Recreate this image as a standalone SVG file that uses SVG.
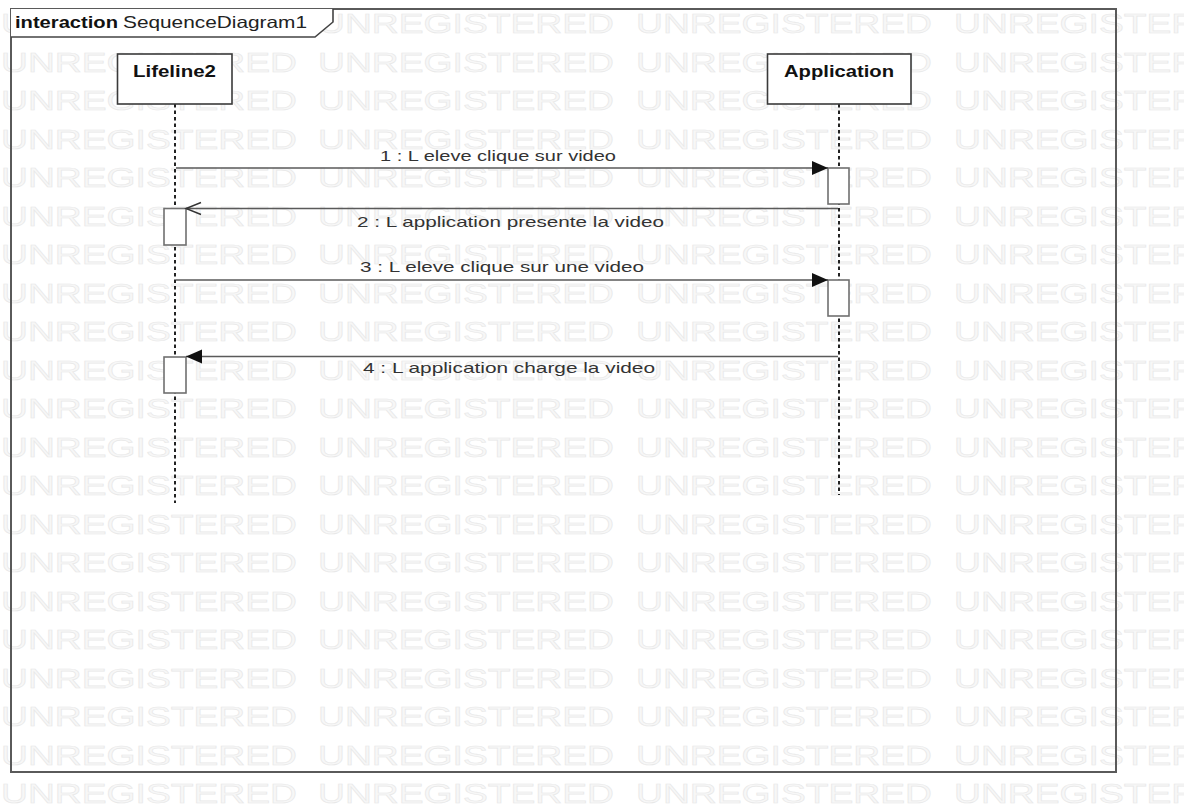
<svg xmlns="http://www.w3.org/2000/svg" width="1184" height="804" viewBox="0 0 1184 804">
  <defs>
    <style>
      .wm { font-family: "Liberation Sans", Arial, sans-serif; font-size: 28px; fill: #f7f7f7; stroke: #e8e8e8; stroke-width: 0.6; }
      .head { font-family: "Liberation Sans", Arial, sans-serif; font-size: 16.5px; font-weight: bold; fill: #111; }
      .title { font-family: "Liberation Sans", Arial, sans-serif; font-size: 16.5px; fill: #222; }
      .msg { font-family: "Liberation Sans", Arial, sans-serif; font-size: 15px; fill: #333; }
      .box { fill: #fff; stroke: #3a3a3a; stroke-width: 1.6; }
      .act { fill: #fff; stroke: #707070; stroke-width: 1.6; }
      .life { stroke: #222; stroke-width: 2; stroke-dasharray: 3.5 3; fill: none; }
      .line { stroke: #5a5a5a; stroke-width: 1.6; fill: none; }
    </style>
    <marker id="filled" markerUnits="userSpaceOnUse" markerWidth="18" markerHeight="16" refX="16" refY="7" orient="auto">
      <path d="M0,0 L16,7 L0,14 z" fill="#111"/>
    </marker>
    <marker id="open" markerUnits="userSpaceOnUse" markerWidth="18" markerHeight="16" refX="16" refY="7" orient="auto">
      <path d="M1,1 L16,7 L1,13" fill="none" stroke="#333" stroke-width="1.4"/>
    </marker>
    <!-- one row of the evaluation watermark, reused below -->
    <g id="wm-row">
      <text class="wm" x="1" y="0" textLength="296" lengthAdjust="spacingAndGlyphs">UNREGISTERED</text>
      <text class="wm" x="318" y="0" textLength="296" lengthAdjust="spacingAndGlyphs">UNREGISTERED</text>
      <text class="wm" x="636" y="0" textLength="296" lengthAdjust="spacingAndGlyphs">UNREGISTERED</text>
      <text class="wm" x="954" y="0" textLength="296" lengthAdjust="spacingAndGlyphs">UNREGISTERED</text>
    </g>
  </defs>

  <rect width="1184" height="804" fill="#fff"/>

  <!-- evaluation watermark rows -->
  <g id="watermark">
    <use href="#wm-row" y="33"/>
    <use href="#wm-row" y="71.5"/>
    <use href="#wm-row" y="110"/>
    <use href="#wm-row" y="148.5"/>
    <use href="#wm-row" y="187"/>
    <use href="#wm-row" y="225.5"/>
    <use href="#wm-row" y="264"/>
    <use href="#wm-row" y="302.5"/>
    <use href="#wm-row" y="341"/>
    <use href="#wm-row" y="379.5"/>
    <use href="#wm-row" y="418"/>
    <use href="#wm-row" y="456.5"/>
    <use href="#wm-row" y="495"/>
    <use href="#wm-row" y="533.5"/>
    <use href="#wm-row" y="572"/>
    <use href="#wm-row" y="610.5"/>
    <use href="#wm-row" y="649"/>
    <use href="#wm-row" y="687.5"/>
    <use href="#wm-row" y="726"/>
    <use href="#wm-row" y="764.5"/>
    <use href="#wm-row" y="803"/>
  </g>

  <!-- interaction frame -->
  <g id="frame">
    <rect x="11" y="9" width="1105" height="763" fill="none" stroke="#5a5a5a" stroke-width="2"/>
    <path d="M11,9 H333 V22 L315,37 H11 z" fill="#fff" stroke="none"/>
    <path d="M11,37 H315 L333,22 V9" fill="none" stroke="#444" stroke-width="1.6"/>
    <text class="head" x="15" y="28" textLength="103" lengthAdjust="spacingAndGlyphs">interaction</text>
    <text class="title" x="123" y="28" textLength="184" lengthAdjust="spacingAndGlyphs">SequenceDiagram1</text>
  </g>

  <!-- lifelines -->
  <g id="lifeline2">
    <line class="life" x1="175" y1="104" x2="175" y2="503"/>
    <rect class="box" x="117.5" y="54" width="114.5" height="50"/>
    <text class="head" x="133" y="77" textLength="83" lengthAdjust="spacingAndGlyphs">Lifeline2</text>
    <rect class="act" x="164" y="208.5" width="22" height="36.5"/>
    <rect class="act" x="164" y="357" width="22" height="36"/>
  </g>

  <g id="application">
    <line class="life" x1="839" y1="104" x2="839" y2="495"/>
    <rect class="box" x="767.5" y="54" width="143.5" height="50"/>
    <text class="head" x="784" y="77" textLength="110" lengthAdjust="spacingAndGlyphs">Application</text>
    <rect class="act" x="828" y="168" width="21" height="36"/>
    <rect class="act" x="828" y="280" width="21" height="36"/>
  </g>

  <!-- messages -->
  <g id="messages">
    <line class="line" x1="176" y1="168" x2="828" y2="168" marker-end="url(#filled)"/>
    <text class="msg" x="380" y="161" textLength="236" lengthAdjust="spacingAndGlyphs">1 : L eleve clique sur video</text>

    <line class="line" x1="838" y1="208.5" x2="186" y2="208.5" marker-end="url(#open)"/>
    <text class="msg" x="357" y="227" textLength="307" lengthAdjust="spacingAndGlyphs">2 : L application presente la video</text>

    <line class="line" x1="176" y1="280" x2="828" y2="280" marker-end="url(#filled)"/>
    <text class="msg" x="360" y="272" textLength="284" lengthAdjust="spacingAndGlyphs">3 : L eleve clique sur une video</text>

    <line class="line" x1="838" y1="356.5" x2="186" y2="356.5" marker-end="url(#filled)"/>
    <text class="msg" x="363" y="373" textLength="292" lengthAdjust="spacingAndGlyphs">4 : L application charge la video</text>
  </g>
</svg>
